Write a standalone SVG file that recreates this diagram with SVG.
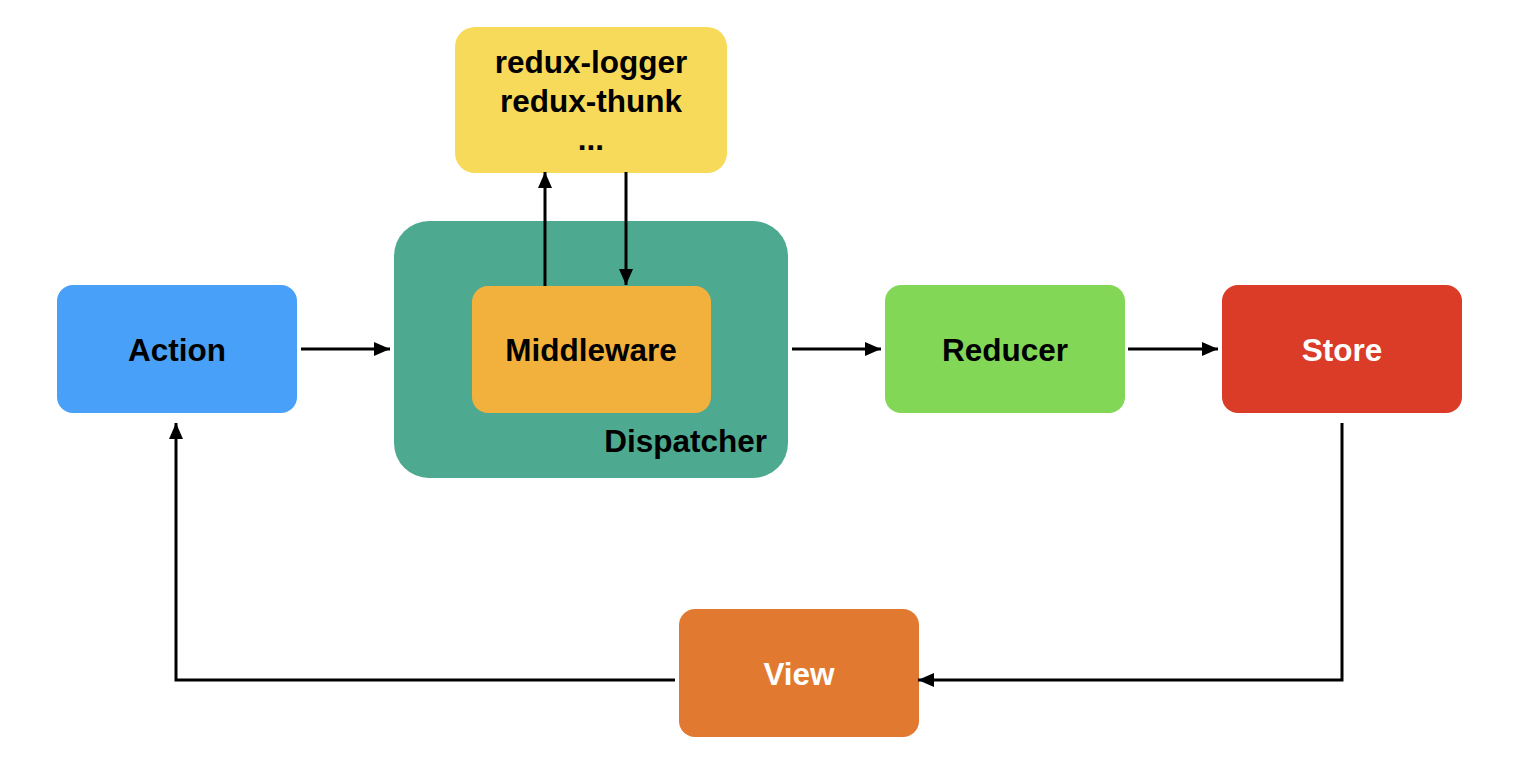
<svg xmlns="http://www.w3.org/2000/svg" width="1524" height="773" viewBox="0 0 1524 773">
<style>
text{font-family:"Liberation Sans",Arial,Helvetica,sans-serif;font-weight:bold;font-size:31.5px;text-anchor:middle;fill:#000}
.w{fill:#fff}
.c{fill:none;stroke:#000;stroke-width:3}
</style>
<defs>
<marker id="ah" viewBox="0 0 16 14" refX="16" refY="7" markerWidth="16" markerHeight="14" markerUnits="userSpaceOnUse" orient="auto">
<path d="M0,0 L16,7 L0,14 Z" fill="#000"/>
</marker>
</defs>
<rect width="1524" height="773" fill="#fff"/>
<g id="plugins">
<rect x="455" y="27" width="272" height="146" rx="20" fill="#F8DA5A"/>
<text x="591" y="73">redux-logger</text>
<text x="591" y="112">redux-thunk</text>
<text x="591" y="150">...</text>
</g>
<g id="dispatcher">
<rect x="394" y="221" width="394" height="257" rx="35" fill="#4DA98F"/>
<text x="767" y="452" style="text-anchor:end">Dispatcher</text>
</g>
<g id="middleware">
<rect x="472" y="286" width="239" height="127" rx="16" fill="#F2B13C"/>
<text x="591" y="361">Middleware</text>
</g>
<g id="action">
<rect x="57" y="285" width="240" height="128" rx="16" fill="#48A0F8"/>
<text x="177" y="361">Action</text>
</g>
<g id="reducer">
<rect x="885" y="285" width="240" height="128" rx="16" fill="#82D756"/>
<text x="1005" y="361">Reducer</text>
</g>
<g id="store">
<rect x="1222" y="285" width="240" height="128" rx="16" fill="#DA3C27"/>
<text class="w" x="1342" y="361">Store</text>
</g>
<g id="view">
<rect x="679" y="609" width="240" height="128" rx="16" fill="#E27930"/>
<text class="w" x="799" y="685">View</text>
</g>
<g id="connectors">
<path class="c" d="M301,349 H390" marker-end="url(#ah)"/>
<path class="c" d="M792,349 H881" marker-end="url(#ah)"/>
<path class="c" d="M1128,349 H1218" marker-end="url(#ah)"/>
<path class="c" d="M545,286 V172" marker-end="url(#ah)"/>
<path class="c" d="M626,172 V285" marker-end="url(#ah)"/>
<path class="c" d="M1342,423 V680 H918" marker-end="url(#ah)"/>
<path class="c" d="M675,680 H176 V423" marker-end="url(#ah)"/>
</g>
</svg>
